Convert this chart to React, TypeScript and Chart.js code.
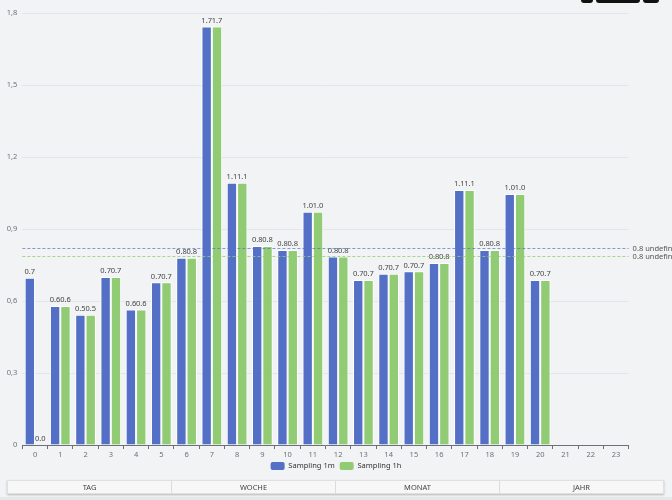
import React, { useEffect, useRef } from "react";
import { Chart, registerables } from "chart.js";

Chart.register(...registerables);

// Hourly consumption for the day, two sampling resolutions
const hours = [
  "0", "1", "2", "3", "4", "5", "6", "7", "8", "9", "10", "11",
  "12", "13", "14", "15", "16", "17", "18", "19", "20", "21", "22", "23",
];
const sampling1m = [
  0.697, 0.579, 0.543, 0.7, 0.565, 0.678, 0.78, 1.744, 1.093, 0.829, 0.8125, 0.972,
  0.785, 0.6875, 0.714, 0.724, 0.758, 1.0625, 0.8125, 1.046, 0.6875, null, null, null,
];
const sampling1h = [
  0, 0.579, 0.543, 0.7, 0.565, 0.678, 0.78, 1.744, 1.093, 0.829, 0.8125, 0.972,
  0.785, 0.6875, 0.714, 0.724, 0.758, 1.0625, 0.8125, 1.046, 0.6875, null, null, null,
];
const seriesNames = ["Sampling 1m", "Sampling 1h"];
const seriesColors = ["#5470c6", "#91cc75"];
const meanLineColors = ["rgba(84,112,198,0.7)", "rgba(145,204,117,0.8)"];
const buttons = ["TAG", "WOCHE", "MONAT", "JAHR"];

const FONT = "'Noto Sans', 'DejaVu Sans', sans-serif";

// Value labels above each bar
const barLabels = {
  id: "barLabels",
  afterDatasetsDraw(chart: any) {
    const { ctx } = chart;
    ctx.save();
    ctx.font = `7.5px ${FONT}`;
    ctx.fillStyle = "#444";
    ctx.textAlign = "center";
    ctx.textBaseline = "bottom";
    chart.data.datasets.forEach((ds: any, di: number) => {
      const meta = chart.getDatasetMeta(di);
      meta.data.forEach((el: any, i: number) => {
        const v = ds.data[i];
        if (v === null || v === undefined) return;
        ctx.fillText(Number(v).toFixed(1), el.x, el.y - 2);
      });
    });
    ctx.restore();
  },
};

// Dashed average line per series with its label on the right
const meanLines = {
  id: "meanLines",
  afterDatasetsDraw(chart: any) {
    const { ctx, chartArea } = chart;
    const y = chart.scales.y;
    ctx.save();
    chart.data.datasets.forEach((ds: any, di: number) => {
      const vals = ds.data.filter((v: any) => v !== null && v !== undefined);
      const mean = vals.reduce((a: number, b: number) => a + b, 0) / vals.length;
      const py = Math.round(y.getPixelForValue(mean)) + 0.5;
      ctx.strokeStyle = meanLineColors[di];
      ctx.lineWidth = 1;
      ctx.setLineDash([3, 2]);
      ctx.beginPath();
      ctx.moveTo(chartArea.left, py);
      ctx.lineTo(chartArea.right, py);
      ctx.stroke();
      ctx.setLineDash([]);
      ctx.font = `7.5px ${FONT}`;
      ctx.fillStyle = "#555";
      ctx.textAlign = "left";
      ctx.textBaseline = "middle";
      ctx.fillText(`${mean.toFixed(1)} undefined`, chartArea.right + 4, py);
    });
    ctx.restore();
  },
};

function EnergyChart() {
  const canvasRef = useRef<HTMLCanvasElement | null>(null);

  useEffect(() => {
    if (!canvasRef.current) return;
    const chart = new Chart(canvasRef.current, {
      type: "bar",
      data: {
        labels: hours,
        datasets: [sampling1m, sampling1h].map((data, i) => ({
          label: seriesNames[i],
          data,
          backgroundColor: seriesColors[i],
          borderColor: "#ffffff",
          borderWidth: 1,
          categoryPercentage: 0.82,
          barPercentage: 1,
        })),
      },
      options: {
        animation: false,
        responsive: false,
        layout: { padding: { top: 13, left: 0, right: 0, bottom: 0 } },
        plugins: {
          tooltip: { enabled: false },
          legend: {
            position: "bottom",
            labels: {
              boxWidth: 14,
              boxHeight: 8,
              padding: 5,
              color: "#333",
              useBorderRadius: true,
              borderRadius: 2,
              font: { family: FONT, size: 7.5 },
              generateLabels: (c: any) =>
                c.data.datasets.map((ds: any, i: number) => ({
                  text: ds.label,
                  fillStyle: seriesColors[i],
                  strokeStyle: seriesColors[i],
                  lineWidth: 0,
                  hidden: false,
                  datasetIndex: i,
                  borderRadius: 2,
                  fontColor: "#333",
                })),
            },
          },
        },
        scales: {
          x: {
            offset: true,
            grid: {
              display: true,
              drawOnChartArea: false,
              drawTicks: true,
              tickLength: 4,
              color: "#6e7079",
            },
            border: { display: true, color: "#6e7079" },
            ticks: {
              color: "#6e7079",
              font: { family: FONT, size: 7.5 },
              padding: 1,
              maxRotation: 0,
              autoSkip: false,
            },
            afterFit: (s: any) => {
              s.height = 12;
            },
          },
          y: {
            min: 0,
            max: 1.8,
            ticks: {
              stepSize: 0.3,
              color: "#6e7079",
              font: { family: FONT, size: 7.5 },
              padding: 5,
              callback: (v: any) =>
                Number(v).toLocaleString("de-DE", { maximumFractionDigits: 1 }),
            },
            grid: { color: "#e2e5eb", drawTicks: false },
            border: { display: false },
            afterFit: (s: any) => {
              s.width = 22.4;
            },
          },
          pad: {
            position: "right",
            display: true,
            grid: { display: false },
            border: { display: false },
            ticks: { display: false },
            afterFit: (s: any) => {
              s.width = 43.4;
            },
          },
        },
      },
      plugins: [barLabels, meanLines],
    } as any);
    return () => chart.destroy();
  }, []);

  return <canvas ref={canvasRef} width={672} height={480} style={{ display: "block" }} />;
}

export default function App() {
  return (
    <div
      style={{
        position: "fixed",
        left: 0,
        top: 0,
        width: 672,
        height: 500,
        background: "#f2f3f5",
        overflow: "hidden",
        fontFamily: FONT,
      }}
    >
      <EnergyChart />
      {/* toolbar buttons peeking in at the top */}
      {[
        [581, 12],
        [596, 44],
        [643, 16],
      ].map(([l, w], i) => (
        <div
          key={i}
          style={{
            position: "absolute",
            top: 0,
            left: l,
            width: w,
            height: 3,
            background: "#111",
            borderRadius: "0 0 4px 4px",
          }}
        />
      ))}
      <div
        style={{
          position: "absolute",
          left: 7,
          top: 480,
          width: 657,
          height: 14,
          display: "flex",
          background: "#f7f7f8",
          boxShadow: "0 1px 2px rgba(0,0,0,0.25)",
          border: "1px solid #e0e0e0",
          boxSizing: "border-box",
        }}
      >
        {buttons.map((b, i) => (
          <div
            key={b}
            style={{
              flex: 1,
              display: "flex",
              alignItems: "center",
              justifyContent: "center",
              fontSize: 7.5,
              color: "#444",
              borderLeft: i === 0 ? "none" : "1px solid #dcdcdc",
            }}
          >
            {b}
          </div>
        ))}
      </div>
      <div
        style={{
          position: "absolute",
          left: 0,
          top: 497,
          width: 672,
          height: 3,
          background: "#e6e7e9",
        }}
      />
    </div>
  );
}
